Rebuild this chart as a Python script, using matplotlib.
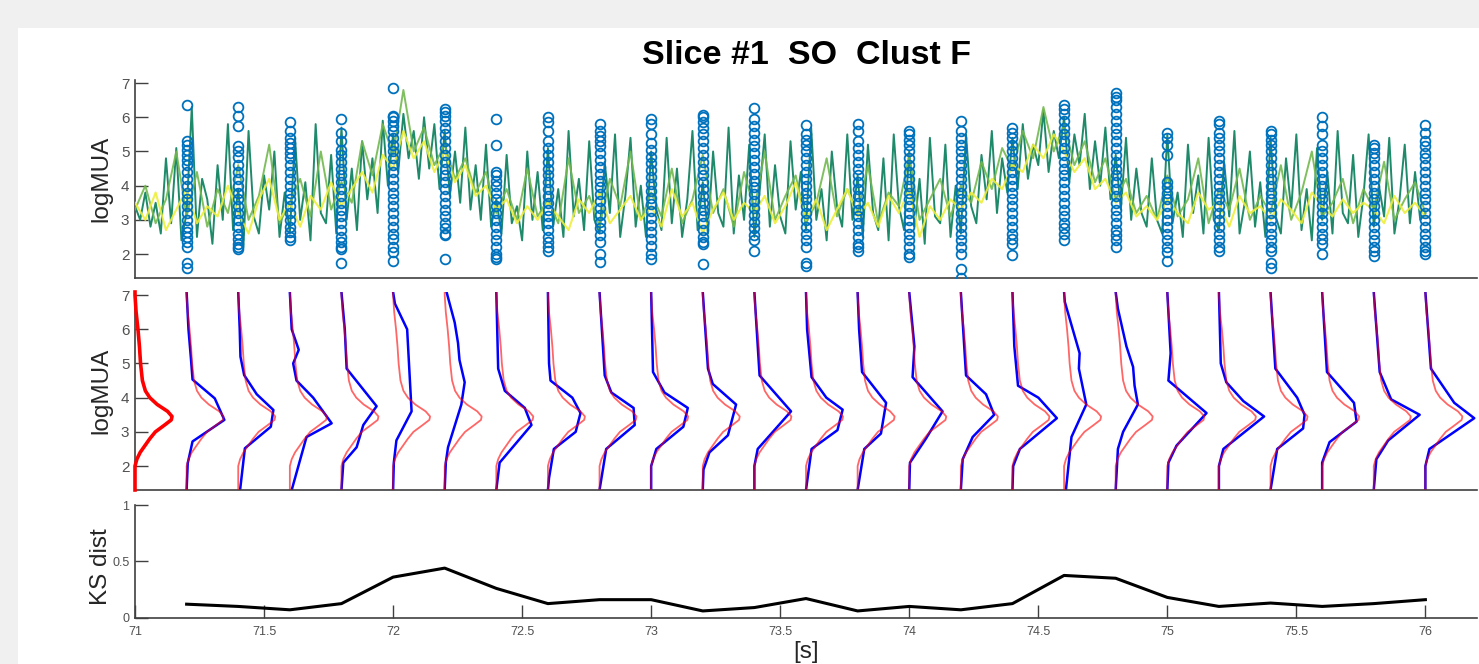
import matplotlib
matplotlib.use('Agg')
import matplotlib.pyplot as plt
import numpy as np
from matplotlib.patches import Rectangle

# ---------------- DATA ----------------
title_text = "Slice #1  SO  Clust F"
windows = [71.2, 71.4, 71.6, 71.8, 72.0, 72.2, 72.4, 72.6, 72.8, 73.0, 73.2, 73.4, 73.6,
           73.8, 74.0, 74.2, 74.4, 74.6, 74.8, 75.0, 75.2, 75.4, 75.6, 75.8, 76.0]

ks_dist = [0.12, 0.10, 0.07, 0.125, 0.36, 0.44, 0.26, 0.125, 0.16, 0.16, 0.06, 0.09, 0.17,
           0.06, 0.10, 0.07, 0.125, 0.375, 0.35, 0.18, 0.10, 0.13, 0.10, 0.125, 0.16]

# dark teal trace, 0.02 s sampling from 71.0 s
trace_dark = [
    3.4, 3.0, 3.8, 2.8, 3.5, 2.6, 4.8, 2.9, 5.1, 2.4,
    3.2, 6.3, 2.5, 4.2, 3.6, 2.3, 4.6, 3.0, 5.8, 2.7,
    3.9, 2.2, 5.6, 3.1, 2.6, 4.3, 3.3, 5.0, 2.5, 3.8,
    2.6, 5.4, 3.0, 4.1, 2.4, 5.8, 3.2, 2.9, 4.9, 2.6,
    5.7, 3.0, 4.5, 2.7, 5.3, 3.6, 4.8, 3.2, 5.9, 4.0,
    5.5, 4.4, 6.1, 4.8, 5.6, 4.2, 6.0, 4.5, 5.8, 3.9,
    5.6, 3.7, 5.0, 3.5, 5.7, 3.3, 4.6, 3.0, 5.2, 2.8,
    3.6, 2.6, 4.9, 2.9, 3.4, 2.4, 5.0, 3.0, 4.4, 2.7,
    5.1, 2.8, 3.9, 2.5, 5.6, 3.1, 4.2, 2.7, 5.3, 3.0,
    2.6, 4.7, 3.2, 5.5, 2.5, 3.7, 5.4, 2.8, 4.0, 2.5,
    5.0, 3.3, 2.7, 5.4, 2.9, 4.5, 2.5, 3.6, 5.6, 2.7,
    4.1, 2.6, 5.0, 3.2, 2.8, 5.7, 2.6, 4.3, 3.0, 5.2,
    2.5, 3.8, 5.5, 2.8, 4.6, 3.1, 2.6, 5.3, 3.3, 4.4,
    2.7, 5.7, 3.0, 3.9, 2.4, 5.0, 3.4, 2.8, 5.5, 3.0,
    4.3, 2.5, 5.2, 3.2, 2.7, 4.8, 2.4, 5.5, 3.4, 2.7,
    5.0, 2.8, 4.2, 2.3, 5.4, 3.1, 2.9, 5.2, 2.5, 4.0,
    2.6, 5.5, 3.4, 2.9, 4.9, 3.6, 5.6, 3.2, 4.8, 3.8,
    5.4, 3.9, 5.8, 4.2, 5.2, 4.6, 6.2, 4.4, 5.6, 4.8,
    6.0, 4.1, 5.5, 4.6, 6.1, 3.9, 5.3, 4.0, 5.7, 3.6,
    4.9, 3.3, 5.4, 3.0, 4.5, 3.2, 2.8, 4.8, 3.0, 2.6,
    5.5, 2.9, 3.8, 2.5, 5.2, 3.2, 4.3, 2.6, 5.4, 3.0,
    2.7, 4.7, 3.1, 5.6, 2.6, 3.5, 5.0, 2.8, 4.1, 2.5,
    5.4, 3.1, 2.6, 4.8, 3.3, 5.5, 2.7, 3.9, 2.4, 5.1,
    3.0, 4.4, 2.6, 5.6, 3.2, 2.9, 4.9, 2.5, 3.7, 5.5,
    2.8, 4.0, 3.1, 5.4, 2.6, 3.6, 5.2, 2.9, 4.4, 3.0,
    3.2]

# mid green trace, 0.04 s sampling from 71.0 s
trace_green = [
    3.3, 4.0, 2.9, 3.6, 5.0, 3.1, 4.4, 2.8, 3.9, 3.2,
    4.6, 3.0, 3.7, 5.2, 2.9, 3.5, 4.2, 3.1, 5.0, 3.3,
    4.1, 3.5, 5.3, 4.3, 5.8, 4.9, 6.8, 5.0, 5.7, 4.6,
    5.2, 4.2, 4.8, 3.8, 4.4, 3.2, 3.9, 3.0, 4.5, 3.1,
    3.6, 2.9, 4.8, 3.2, 3.7, 2.8, 4.2, 3.4, 5.0, 3.0,
    3.8, 3.1, 4.5, 2.9, 3.6, 4.9, 3.2, 3.9, 2.8, 4.4,
    3.3, 5.0, 3.0, 3.7, 4.3, 2.9, 3.5, 4.8, 3.1, 3.9,
    3.2, 4.6, 2.9, 3.8, 3.4, 4.9, 3.0, 3.6, 4.2, 3.1,
    4.0, 3.5, 4.7, 3.9, 5.1, 4.5, 5.6, 4.8, 6.3, 5.0,
    5.8, 4.6, 5.3, 4.1, 4.8, 3.6, 4.2, 3.2, 3.7, 3.0,
    4.3, 3.1, 3.6, 4.8, 2.9, 3.9, 3.3, 4.5, 3.0, 3.7,
    3.2, 4.6, 3.0, 3.8, 5.0, 3.1, 3.5, 4.2, 2.9, 3.9,
    3.3, 4.7, 3.0, 3.6, 4.1, 3.2]

# yellow trace, 0.04 s sampling from 71.0 s
trace_yellow = [
    3.5, 3.0, 3.8, 2.7, 3.3, 3.9, 2.9, 3.4, 3.1, 4.0,
    3.2, 2.6, 3.6, 4.2, 3.0, 3.5, 2.8, 3.7, 3.3, 4.1,
    3.4, 3.9, 4.4, 3.8, 4.9, 4.5, 5.6, 4.8, 5.3, 4.4,
    5.0, 4.1, 4.6, 3.7, 4.0, 3.3, 3.6, 2.9, 3.4, 3.0,
    3.5, 3.1, 2.7, 3.6, 3.2, 3.8, 2.9, 3.3, 3.7, 3.0,
    3.4, 2.8, 3.9, 3.1, 3.5, 2.6, 3.3, 3.8, 3.0, 3.5,
    3.2, 3.7, 2.9, 3.4, 4.1, 3.0, 3.6, 2.7, 3.3, 3.9,
    3.1, 3.5, 2.8, 3.7, 3.2, 3.9, 2.5, 3.4, 3.0, 3.6,
    3.3, 3.8, 3.5, 4.2, 3.9, 4.6, 4.4, 5.2, 4.8, 5.5,
    5.0, 4.4, 4.8, 3.9, 4.2, 3.5, 3.8, 3.1, 3.4, 3.0,
    3.6, 3.2, 2.9, 3.8, 3.3, 3.5, 2.8, 3.7, 3.2, 3.4,
    3.0, 3.6, 3.3, 2.9, 3.8, 3.4, 3.1, 3.6, 3.2, 3.5,
    3.3, 2.9, 3.7, 3.2, 3.5, 3.1]

# logMUA samples at each window centre (circles)
window_samples = [
    [6.35, 5.3, 5.2, 5.05, 4.9, 4.75, 4.6, 4.4, 4.2, 4.0, 3.8, 3.6, 3.4, 3.2, 3.0, 2.8, 2.65, 2.5, 2.35, 2.2, 1.75, 1.6],
    [6.3, 6.05, 5.75, 5.15, 5.0, 4.85, 4.6, 4.4, 4.2, 4.0, 3.8, 3.6, 3.4, 3.2, 3.0, 2.8, 2.6, 2.45, 2.3, 2.2, 2.15],
    [5.85, 5.6, 5.4, 5.25, 5.1, 4.95, 4.8, 4.6, 4.4, 4.2, 4.0, 3.8, 3.6, 3.4, 3.2, 3.0, 2.8, 2.65, 2.5, 2.4],
    [5.95, 5.55, 5.3, 5.05, 4.9, 4.7, 4.5, 4.3, 4.1, 3.9, 3.7, 3.5, 3.3, 3.1, 2.9, 2.7, 2.5, 2.35, 2.2, 2.15, 1.75],
    [6.85, 6.05, 6.0, 5.9, 5.75, 5.6, 5.4, 5.2, 5.0, 4.8, 4.6, 4.4, 4.2, 4.0, 3.8, 3.6, 3.4, 3.2, 3.0, 2.8, 2.6, 2.45, 2.2, 2.05, 1.8],
    [6.25, 6.15, 6.05, 5.9, 5.7, 5.5, 5.3, 5.1, 4.9, 4.7, 4.5, 4.3, 4.1, 3.9, 3.7, 3.5, 3.3, 3.1, 2.9, 2.75, 2.6, 2.55, 1.85],
    [5.95, 5.2, 4.4, 4.3, 4.15, 4.0, 3.8, 3.6, 3.4, 3.2, 3.0, 2.8, 2.6, 2.4, 2.2, 2.0, 1.9, 1.85],
    [6.0, 5.85, 5.6, 5.3, 5.1, 4.9, 4.7, 4.5, 4.3, 4.1, 3.9, 3.7, 3.5, 3.3, 3.1, 2.9, 2.7, 2.5, 2.35, 2.2, 2.1],
    [5.8, 5.6, 5.45, 5.3, 5.15, 4.95, 4.75, 4.55, 4.35, 4.15, 3.95, 3.75, 3.55, 3.35, 3.15, 2.95, 2.75, 2.55, 2.35, 2.0, 1.77],
    [5.94, 5.8, 5.5, 5.25, 5.05, 4.85, 4.65, 4.45, 4.25, 4.05, 3.85, 3.65, 3.45, 3.25, 3.05, 2.85, 2.65, 2.45, 2.25, 2.0, 1.85],
    [6.08, 6.0, 5.85, 5.7, 5.5, 5.3, 5.1, 4.9, 4.7, 4.5, 4.3, 4.1, 3.9, 3.7, 3.5, 3.3, 3.1, 2.9, 2.7, 2.5, 2.35, 2.3, 1.7],
    [6.27, 5.95, 5.75, 5.55, 5.35, 5.15, 4.95, 4.75, 4.55, 4.35, 4.15, 3.95, 3.75, 3.55, 3.35, 3.15, 2.95, 2.75, 2.55, 2.4, 2.1],
    [5.76, 5.5, 5.35, 5.2, 5.0, 4.8, 4.6, 4.4, 4.2, 4.0, 3.8, 3.6, 3.4, 3.2, 3.0, 2.8, 2.6, 2.4, 2.2, 1.75, 1.65],
    [5.8, 5.6, 5.3, 5.1, 4.9, 4.7, 4.5, 4.3, 4.1, 3.9, 3.7, 3.5, 3.3, 3.1, 2.9, 2.7, 2.5, 2.3, 2.2, 2.1],
    [5.6, 5.5, 5.35, 5.2, 5.0, 4.8, 4.6, 4.4, 4.2, 4.0, 3.8, 3.6, 3.4, 3.2, 3.0, 2.8, 2.6, 2.4, 2.2, 2.0, 1.9],
    [5.9, 5.6, 5.4, 5.2, 5.0, 4.8, 4.6, 4.4, 4.2, 4.0, 3.8, 3.6, 3.4, 3.2, 3.0, 2.8, 2.6, 2.4, 2.2, 2.0, 1.55, 1.3],
    [5.7, 5.55, 5.4, 5.2, 5.0, 4.8, 4.6, 4.4, 4.2, 4.0, 3.8, 3.6, 3.4, 3.2, 3.0, 2.8, 2.6, 2.45, 2.3, 1.97],
    [6.37, 6.25, 6.1, 5.9, 5.7, 5.5, 5.3, 5.1, 4.9, 4.7, 4.5, 4.3, 4.1, 3.9, 3.7, 3.5, 3.3, 3.1, 2.9, 2.75, 2.6, 2.4],
    [6.7, 6.6, 6.5, 6.3, 6.1, 5.9, 5.7, 5.5, 5.3, 5.1, 4.9, 4.7, 4.5, 4.3, 4.1, 3.9, 3.7, 3.5, 3.3, 3.1, 2.9, 2.7, 2.55, 2.4, 2.2],
    [5.55, 5.4, 5.2, 4.9, 4.1, 3.95, 3.8, 3.6, 3.4, 3.2, 3.0, 2.8, 2.6, 2.4, 2.2, 2.05, 1.8],
    [5.9, 5.8, 5.55, 5.4, 5.2, 5.0, 4.8, 4.6, 4.4, 4.2, 4.0, 3.8, 3.6, 3.4, 3.2, 3.0, 2.8, 2.6, 2.4, 2.2, 2.1],
    [5.6, 5.5, 5.35, 5.2, 5.0, 4.8, 4.6, 4.4, 4.2, 4.0, 3.8, 3.6, 3.4, 3.2, 3.0, 2.8, 2.6, 2.4, 2.2, 2.1, 1.75, 1.6],
    [6.0, 5.75, 5.5, 5.2, 5.0, 4.8, 4.6, 4.4, 4.2, 4.0, 3.8, 3.6, 3.4, 3.2, 3.0, 2.8, 2.6, 2.45, 2.3, 2.0],
    [5.2, 5.1, 4.95, 4.8, 4.6, 4.4, 4.2, 4.0, 3.8, 3.6, 3.4, 3.2, 3.0, 2.8, 2.6, 2.4, 2.2, 2.1, 1.95],
    [5.78, 5.55, 5.3, 5.15, 4.95, 4.8, 4.6, 4.4, 4.2, 4.0, 3.8, 3.6, 3.4, 3.2, 3.0, 2.8, 2.6, 2.4, 2.2, 2.1, 2.0],
]

# reference (whole-record) distribution: logMUA levels and relative density
ref_y = [1.3, 2.0, 2.2, 2.4, 2.6, 2.8, 3.0, 3.2, 3.35, 3.45, 3.6, 3.8, 4.0, 4.2, 4.5, 5.0, 5.5, 6.0, 6.5, 7.0, 7.09]
ref_w = [0.0, 0.0, 0.05, 0.14, 0.27, 0.40, 0.55, 0.80, 0.98, 1.0, 0.88, 0.60, 0.40, 0.28, 0.20, 0.15, 0.12, 0.08, 0.03, 0.0, 0.0]

# local (window) distributions: logMUA levels and relative density
local_y = [
    [7.09, 6.0, 5.1, 4.53, 3.98, 3.35, 2.72, 2.08, 1.3],
    [7.09, 6.0, 5.2, 4.66, 4.1, 3.64, 3.15, 2.52, 1.3],
    [7.09, 6.0, 5.4, 5.0, 4.5, 4.0, 3.25, 2.85, 1.3],
    [7.09, 6.0, 4.85, 3.75, 3.2, 2.55, 2.1, 1.3],
    [7.09, 6.75, 6.0, 3.6, 2.75, 2.1, 1.3],
    [7.09, 6.2, 5.6, 5.1, 4.45, 3.8, 2.55, 2.1, 1.3],
    [7.09, 4.85, 4.2, 3.7, 3.2, 2.1, 1.3],
    [7.09, 5.0, 4.5, 4.0, 3.55, 3.0, 2.5, 1.65, 1.3],
    [7.09, 4.65, 4.15, 3.7, 3.2, 2.5, 1.3],
    [7.09, 4.75, 4.15, 3.7, 3.15, 2.5, 2.0, 1.3],
    [7.09, 4.85, 4.4, 3.8, 2.9, 2.4, 1.9, 1.3],
    [7.09, 4.65, 3.6, 2.5, 2.0, 1.3],
    [7.09, 6.0, 4.6, 4.0, 3.65, 3.05, 2.5, 1.3],
    [7.09, 6.0, 4.75, 3.85, 2.95, 2.5, 1.3],
    [7.09, 5.5, 4.6, 3.6, 2.8, 2.1, 1.3],
    [7.09, 4.65, 4.1, 3.5, 2.85, 2.2, 1.3],
    [7.09, 5.5, 4.35, 4.0, 3.4, 2.5, 2.0, 1.3],
    [7.09, 6.8, 5.3, 4.85, 3.8, 2.85, 1.3],
    [7.09, 6.6, 5.5, 4.9, 4.35, 3.8, 3.0, 2.5, 1.3],
    [7.09, 5.3, 4.5, 3.55, 2.6, 2.1, 1.3],
    [7.09, 5.0, 4.45, 3.9, 3.45, 2.5, 2.0, 1.3],
    [7.09, 4.85, 4.0, 3.5, 3.1, 2.5, 1.3],
    [7.09, 4.75, 3.85, 3.3, 2.7, 2.1, 1.3],
    [7.09, 4.75, 3.95, 3.5, 2.75, 2.2, 1.3],
    [7.09, 4.85, 3.85, 3.4, 2.5, 2.0, 1.3],
]
local_w = [
    [0.0, 0.05, 0.12, 0.16, 0.76, 1.02, 0.16, 0.03, 0.0],
    [0.0, 0.04, 0.06, 0.16, 0.50, 0.95, 0.88, 0.18, 0.05],
    [0.0, 0.05, 0.24, 0.09, 0.18, 0.63, 1.13, 0.45, 0.05],
    [0.0, 0.09, 0.14, 0.95, 0.59, 0.41, 0.05, 0.0],
    [0.0, 0.05, 0.38, 0.50, 0.09, 0.02, 0.0],
    [0.05, 0.27, 0.36, 0.40, 0.54, 0.45, 0.09, 0.03, 0.0],
    [0.0, 0.05, 0.23, 0.77, 0.95, 0.09, 0.0],
    [0.0, 0.03, 0.07, 0.66, 0.88, 0.75, 0.16, 0.03, 0.0],
    [0.0, 0.14, 0.32, 0.92, 0.95, 0.18, 0.0],
    [0.0, 0.05, 0.36, 0.99, 0.87, 0.14, 0.0, 0.0],
    [0.0, 0.14, 0.27, 0.90, 0.68, 0.18, 0.02, 0.0],
    [0.0, 0.14, 0.99, 0.09, 0.0, 0.0],
    [0.0, 0.03, 0.15, 0.55, 0.99, 0.85, 0.15, 0.0],
    [0.0, 0.04, 0.12, 0.77, 0.63, 0.18, 0.0],
    [0.0, 0.14, 0.09, 0.90, 0.45, 0.02, 0.0],
    [0.0, 0.14, 0.68, 0.90, 0.32, 0.05, 0.0],
    [0.0, 0.05, 0.15, 0.70, 1.20, 0.20, 0.02, 0.0],
    [0.0, 0.02, 0.42, 0.40, 0.60, 0.20, 0.05],
    [0.0, 0.06, 0.29, 0.47, 0.51, 0.60, 0.20, 0.06, 0.0],
    [0.0, 0.09, 0.03, 1.06, 0.25, 0.03, 0.0],
    [0.0, 0.05, 0.20, 0.66, 1.22, 0.12, 0.0, 0.0],
    [0.0, 0.13, 0.72, 0.92, 0.88, 0.18, 0.0],
    [0.0, 0.13, 0.86, 0.93, 0.20, 0.0, 0.0],
    [0.0, 0.16, 0.47, 1.24, 0.39, 0.07, 0.0],
    [0.0, 0.15, 0.78, 1.32, 0.11, 0.0, 0.0],
]

x_ticks = [71, 71.5, 72, 72.5, 73, 73.5, 74, 74.5, 75, 75.5, 76]
x_ticklabels = ['71', '71.5', '72', '72.5', '73', '73.5', '74', '74.5', '75', '75.5', '76']
mua_ticks = [2, 3, 4, 5, 6, 7]
ks_ticks = [0, 0.5, 1]
ks_ticklabels = ['0', '0.5', '1']

# ---------------- STYLE ----------------
plt.rcParams['font.family'] = ['Liberation Sans', 'DejaVu Sans']
W_PX, H_PX = 1479, 664
fig = plt.figure(figsize=(W_PX / 100, H_PX / 100), dpi=100, facecolor='#f0f0f0')
fig.patches.append(Rectangle((18 / W_PX, 0), 1 - 18 / W_PX, 1 - 28 / H_PX,
                             transform=fig.transFigure, facecolor='white',
                             edgecolor='none', zorder=-10))

def px_axes(left, top, right, bottom):
    return [left / W_PX, 1 - bottom / H_PX, (right - left) / W_PX, (bottom - top) / H_PX]

AX_COL = '#404040'
LBL_COL = '#505050'
XLIM = (71, 76.2)
YLIM = (1.3, 7.09)

def style(ax, fs):
    for s in ['top', 'right']:
        ax.spines[s].set_visible(False)
    for s in ['left', 'bottom']:
        ax.spines[s].set_color(AX_COL)
        ax.spines[s].set_linewidth(1.2)
    ax.tick_params(direction='in', length=9.5, width=1.0, color=AX_COL,
                   labelcolor=LBL_COL, labelsize=fs, pad=4)
    ax.set_xlim(*XLIM)

ax1 = fig.add_axes(px_axes(135, 80, 1477, 278))
ax2 = fig.add_axes(px_axes(135, 292, 1477, 490))
ax3 = fig.add_axes(px_axes(135, 505, 1477, 617.7))
for a in (ax1, ax2, ax3):
    a.patch.set_alpha(0)

# ---- top panel ----
t_dark = 71.0 + 0.02 * np.arange(len(trace_dark))
t_green = 71.0 + 0.04 * np.arange(len(trace_green))
t_yellow = 71.0 + 0.04 * np.arange(len(trace_yellow))
ax1.plot(t_dark, trace_dark, color='#1f8a6a', lw=1.4, zorder=2)
ax1.plot(t_green, trace_green, color='#72b84e', lw=1.4, alpha=0.9, zorder=3)
ax1.plot(t_yellow, trace_yellow, color='#eeee3a', lw=1.5, alpha=0.9, zorder=4)
for t, vals in zip(windows, window_samples):
    ax1.plot([t] * len(vals), vals, linestyle='none', marker='o', markersize=7.0,
             markerfacecolor='none', markeredgecolor='#0072BD', markeredgewidth=1.3, zorder=5)
style(ax1, 11)
ax1.set_ylim(*YLIM)
ax1.set_yticks(mua_ticks)
ax1.set_xticks([])
ax1.set_ylabel('logMUA', fontsize=17.5, color='#262626')
ax1.yaxis.set_label_coords(-0.017, 0.5)

# ---- middle panel ----
WSCALE = 0.1434  # seconds per unit relative density
ref_w_arr = np.array(ref_w)
ax2.plot(71.0 + WSCALE * ref_w_arr, ref_y, color='#ff0000', lw=2.6, zorder=4, clip_on=False)
for t, ly, lw_ in zip(windows, local_y, local_w):
    ax2.plot(t + WSCALE * np.array(lw_), ly, color='#0000ff', lw=1.8, zorder=2)
    ax2.plot(t + WSCALE * ref_w_arr, ref_y, color='#ff0000', lw=1.3, alpha=0.6, zorder=3)
style(ax2, 11)
ax2.set_ylim(*YLIM)
ax2.set_yticks(mua_ticks)
ax2.set_xticks([])
ax2.set_ylabel('logMUA', fontsize=17.5, color='#262626')
ax2.yaxis.set_label_coords(-0.017, 0.5)

# ---- bottom panel ----
ax3.plot(windows, ks_dist, color='black', lw=2.2)
style(ax3, 9)
ax3.set_ylim(0, 1)
ax3.set_yticks(ks_ticks)
ax3.set_yticklabels(ks_ticklabels)
ax3.set_xticks(x_ticks)
ax3.set_xticklabels(x_ticklabels)
ax3.tick_params(axis='x', pad=6)
ax3.set_ylabel('KS dist', fontsize=17.5, color='#262626')
ax3.yaxis.set_label_coords(-0.017, 0.45)

fig.text(806 / W_PX, 1 - 641 / H_PX, '[s]', ha='center', va='top', fontsize=17.5, color='#262626')
fig.text(806 / W_PX, 1 - 56 / H_PX, title_text, ha='center', va='center',
         fontsize=24.5, fontweight='bold', color='black')

fig.savefig('out.png', dpi=100, facecolor=fig.get_facecolor())
